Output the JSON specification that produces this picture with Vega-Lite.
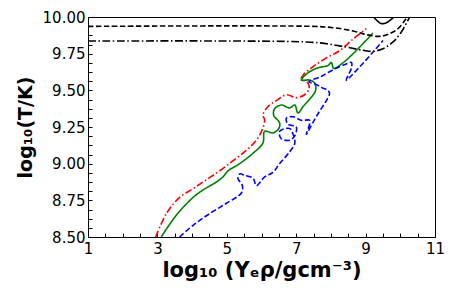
{
  "$schema": "https://vega.github.io/schema/vega-lite/v6.json",
  "width": 347,
  "height": 220,
  "autosize": "none",
  "padding": {"left": 88, "top": 17, "right": 22, "bottom": 62},
  "background": "white",
  "config": {
    "view": {"stroke": "black", "strokeWidth": 1},
    "font": "DejaVu Sans",
    "axis": {"grid": false, "domainColor": "black", "tickColor": "black", "labelColor": "black", "titleColor": "black", "labelFont": "DejaVu Sans", "titleFont": "DejaVu Sans"}
  },
  "data": {"values": [
    {"s":"a","i":1,"x":2.95,"y":8.5},{"s":"a","i":2,"x":3.26,"y":8.66},{"s":"a","i":3,"x":3.64,"y":8.77},{"s":"a","i":4,"x":4.03,"y":8.83},{"s":"a","i":5,"x":4.41,"y":8.89},{"s":"a","i":6,"x":4.79,"y":8.95},{"s":"a","i":7,"x":5.18,"y":9.02},{"s":"a","i":8,"x":5.56,"y":9.09},{"s":"a","i":9,"x":5.85,"y":9.16},{"s":"a","i":10,"x":6.02,"y":9.23},{"s":"a","i":11,"x":6.09,"y":9.3},{"s":"a","i":12,"x":6.04,"y":9.33},{"s":"a","i":13,"x":6.19,"y":9.39},{"s":"a","i":14,"x":6.43,"y":9.43},{"s":"a","i":15,"x":6.72,"y":9.47},{"s":"a","i":16,"x":7.0,"y":9.45},{"s":"a","i":17,"x":7.24,"y":9.47},{"s":"a","i":18,"x":7.37,"y":9.51},{"s":"a","i":19,"x":7.34,"y":9.55},{"s":"a","i":20,"x":7.15,"y":9.58},{"s":"a","i":21,"x":7.22,"y":9.61},{"s":"a","i":22,"x":7.48,"y":9.66},{"s":"a","i":23,"x":7.86,"y":9.72},{"s":"a","i":24,"x":8.25,"y":9.77},{"s":"a","i":25,"x":8.64,"y":9.85},{"s":"a","i":26,"x":9.02,"y":9.92},
    {"s":"b","i":1,"x":3.11,"y":8.5},{"s":"b","i":2,"x":3.55,"y":8.65},{"s":"b","i":3,"x":4.03,"y":8.77},{"s":"b","i":4,"x":4.31,"y":8.82},{"s":"b","i":5,"x":4.7,"y":8.875},{"s":"b","i":6,"x":4.89,"y":8.91},{"s":"b","i":7,"x":5.03,"y":8.95},{"s":"b","i":8,"x":5.37,"y":9.0},{"s":"b","i":9,"x":5.75,"y":9.07},{"s":"b","i":10,"x":6.04,"y":9.14},{"s":"b","i":11,"x":6.09,"y":9.22},{"s":"b","i":12,"x":6.33,"y":9.21},{"s":"b","i":13,"x":6.5,"y":9.24},{"s":"b","i":14,"x":6.52,"y":9.28},{"s":"b","i":15,"x":6.35,"y":9.33},{"s":"b","i":16,"x":6.38,"y":9.375},{"s":"b","i":17,"x":6.57,"y":9.4},{"s":"b","i":18,"x":6.81,"y":9.38},{"s":"b","i":19,"x":6.96,"y":9.4},{"s":"b","i":20,"x":7.05,"y":9.345},{"s":"b","i":21,"x":7.2,"y":9.39},{"s":"b","i":22,"x":7.39,"y":9.44},{"s":"b","i":23,"x":7.56,"y":9.5},{"s":"b","i":24,"x":7.53,"y":9.55},{"s":"b","i":25,"x":7.39,"y":9.57},{"s":"b","i":26,"x":7.15,"y":9.57},{"s":"b","i":27,"x":7.29,"y":9.61},{"s":"b","i":28,"x":7.58,"y":9.65},{"s":"b","i":29,"x":7.92,"y":9.67},{"s":"b","i":30,"x":8.01,"y":9.69},{"s":"b","i":31,"x":8.08,"y":9.65},{"s":"b","i":32,"x":8.25,"y":9.67},{"s":"b","i":33,"x":8.64,"y":9.75},{"s":"b","i":34,"x":9.21,"y":9.89},
    {"s":"c","i":1,"x":3.64,"y":8.5},{"s":"c","i":2,"x":4.03,"y":8.58},{"s":"c","i":3,"x":4.51,"y":8.66},{"s":"c","i":4,"x":4.99,"y":8.73},{"s":"c","i":5,"x":5.42,"y":8.8},{"s":"c","i":6,"x":5.45,"y":8.85},{"s":"c","i":7,"x":5.32,"y":8.9},{"s":"c","i":8,"x":5.37,"y":8.93},{"s":"c","i":9,"x":5.52,"y":8.92},{"s":"c","i":10,"x":5.76,"y":8.9},{"s":"c","i":11,"x":5.85,"y":8.85},{"s":"c","i":12,"x":6.09,"y":8.91},{"s":"c","i":13,"x":6.33,"y":8.94},{"s":"c","i":14,"x":6.52,"y":9.0},{"s":"c","i":15,"x":6.81,"y":9.08},{"s":"c","i":16,"x":6.96,"y":9.14},{"s":"c","i":17,"x":6.91,"y":9.2},{"s":"c","i":18,"x":6.81,"y":9.24},{"s":"c","i":19,"x":6.52,"y":9.22},{"s":"c","i":20,"x":6.57,"y":9.17},{"s":"c","i":21,"x":6.81,"y":9.16},{"s":"c","i":22,"x":6.96,"y":9.19},{"s":"c","i":23,"x":7.0,"y":9.25},{"s":"c","i":24,"x":6.76,"y":9.27},{"s":"c","i":25,"x":6.72,"y":9.31},{"s":"c","i":26,"x":6.91,"y":9.32},{"s":"c","i":27,"x":7.15,"y":9.295},{"s":"c","i":28,"x":7.39,"y":9.295},{"s":"c","i":29,"x":7.29,"y":9.2},{"s":"c","i":30,"x":7.48,"y":9.28},{"s":"c","i":31,"x":7.68,"y":9.36},{"s":"c","i":32,"x":7.87,"y":9.43},{"s":"c","i":33,"x":7.96,"y":9.48},{"s":"c","i":34,"x":7.91,"y":9.5},{"s":"c","i":35,"x":7.72,"y":9.52},{"s":"c","i":36,"x":7.58,"y":9.54},{"s":"c","i":37,"x":7.37,"y":9.56},{"s":"c","i":38,"x":7.68,"y":9.59},{"s":"c","i":39,"x":8.06,"y":9.64},{"s":"c","i":40,"x":8.44,"y":9.68},{"s":"c","i":41,"x":8.59,"y":9.69},{"s":"c","i":42,"x":8.59,"y":9.65},{"s":"c","i":43,"x":8.44,"y":9.57},{"s":"c","i":44,"x":8.83,"y":9.66},{"s":"c","i":45,"x":9.21,"y":9.76},{"s":"c","i":46,"x":9.5,"y":9.84},
    {"s":"d","i":1,"x":1.0,"y":9.936},{"s":"d","i":2,"x":7.48,"y":9.936},{"s":"d","i":3,"x":8.06,"y":9.927},{"s":"d","i":4,"x":8.64,"y":9.905},{"s":"d","i":5,"x":9.02,"y":9.88},{"s":"d","i":6,"x":9.41,"y":9.868},{"s":"d","i":7,"x":9.69,"y":9.886},{"s":"d","i":8,"x":9.93,"y":9.92},{"s":"d","i":9,"x":10.13,"y":9.977},{"s":"d","i":10,"x":10.22,"y":10.01},
    {"s":"e","i":1,"x":1.0,"y":9.836},{"s":"e","i":2,"x":7.29,"y":9.83},{"s":"e","i":3,"x":7.87,"y":9.818},{"s":"e","i":4,"x":8.44,"y":9.795},{"s":"e","i":5,"x":8.93,"y":9.773},{"s":"e","i":6,"x":9.21,"y":9.766},{"s":"e","i":7,"x":9.5,"y":9.784},{"s":"e","i":8,"x":9.79,"y":9.83},{"s":"e","i":9,"x":10.03,"y":9.898},{"s":"e","i":10,"x":10.22,"y":9.977},{"s":"e","i":11,"x":10.32,"y":10.02},
    {"s":"f","i":1,"x":9.21,"y":10.005},{"s":"f","i":2,"x":9.34,"y":9.973},{"s":"f","i":3,"x":9.45,"y":9.955},{"s":"f","i":4,"x":9.6,"y":9.961},{"s":"f","i":5,"x":9.74,"y":9.984},{"s":"f","i":6,"x":9.84,"y":10.005}
  ]},
  "mark": {"type": "line", "clip": true, "strokeWidth": 1.6, "interpolate": "catmull-rom"},
  "encoding": {
    "x": {"field": "x", "type": "quantitative",
      "scale": {"domain": [1, 11], "nice": false, "zero": false},
      "axis": {"values": [1,1.5,2,2.5,3,3.5,4,4.5,5,5.5,6,6.5,7,7.5,8,8.5,9,9.5,10,10.5,11],
        "labelExpr": "datum.value % 2 == 1 ? format(datum.value, 'd') : ''",
        "tickSize": -4, "labelPadding": 8, "labelFontSize": 15, "labelFlush": false,
        "title": "log₁₀ (Yₑρ/gcm⁻³)", "titleFontSize": 21, "titleFontWeight": "bold", "titlePadding": 3}},
    "y": {"field": "y", "type": "quantitative",
      "scale": {"domain": [8.5, 10], "nice": false, "zero": false},
      "axis": {"values": [8.5,8.5625,8.625,8.6875,8.75,8.8125,8.875,8.9375,9,9.0625,9.125,9.1875,9.25,9.3125,9.375,9.4375,9.5,9.5625,9.625,9.6875,9.75,9.8125,9.875,9.9375,10],
        "labelExpr": "(datum.value*4) % 1 == 0 ? format(datum.value, '.2f') : ''",
        "tickSize": -4, "labelPadding": 7, "labelFontSize": 15, "labelFlush": false,
        "title": "log₁₀(T/K)", "titleFontSize": 19, "titleFontWeight": "bold", "titlePadding": 7}},
    "color": {"field": "s", "type": "nominal", "legend": null,
      "scale": {"domain": ["a","b","c","d","e","f"], "range": ["#ff0000","#008000","#0000ff","#000000","#000000","#000000"]}},
    "strokeDash": {"field": "s", "type": "nominal", "legend": null,
      "scale": {"domain": ["a","b","c","d","e","f"], "range": [[7,2.5,1.5,2.5],[1,0],[5.5,2.5],[5.5,2.5],[8,2.5,1.5,2.5],[1,0]]}},
    "order": {"field": "i", "type": "quantitative"}
  }
}
